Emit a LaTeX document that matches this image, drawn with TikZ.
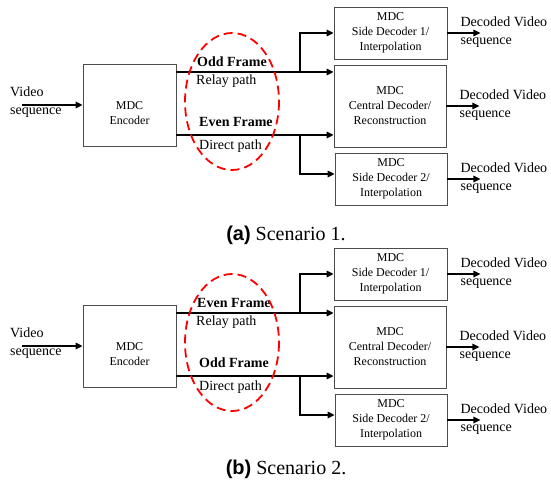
\documentclass[tikz,border=0pt]{standalone}
\usepackage{fontspec}
\setmainfont{Liberation Serif}
\newfontfamily\capsans{Liberation Sans}
\usetikzlibrary{positioning,arrows.meta}

\tikzset{
  blk/.style={draw=black!70, line width=0.8pt, inner sep=0pt, align=center,
    font=\fontsize{12}{15}\selectfont},
  lbl/.style={inner sep=0pt, align=left, font=\fontsize{14}{17.5}\selectfont},
  flow/.style={line width=1.5pt, -{Triangle[length=7pt,width=6.5pt]}},
  zone/.style={red, line width=1.8pt, dash pattern=on 9pt off 5pt}
}

\begin{document}
\begin{tikzpicture}[x=1pt,y=-1pt]
\useasboundingbox (0,0) rectangle (551,486);
\foreach \dy/\frA/\frB/\tg/\nr/\cy in {0/Odd/Even/a/1/235, 241/Even/Odd/b/2/469}{
\node[anchor=center,font=\fontsize{20}{24}\selectfont] (cap\tg) at (286,\cy) {{\capsans\bfseries (\tg)} Scenario \nr.};
\begin{scope}[shift={(0,\dy)}]
\node[blk, minimum width=93pt, minimum height=82pt,
  label={[align=center, font=\fontsize{12}{15}\selectfont, yshift=-8pt]center:MDC\\Encoder}] (enc\tg) at (129.5,105) {};
\node[blk, minimum width=113pt, minimum height=52pt] (sda\tg) at (390.5,33) {MDC\\Side Decoder 1/\\Interpolation};
\node[blk, minimum width=112pt, minimum height=82pt] (cen\tg) at (390,106) {MDC\\Central Decoder/\\Reconstruction};
\node[blk, minimum width=112pt, minimum height=52pt] (sdb\tg) at (391,179) {MDC\\Side Decoder 2/\\Interpolation};
\node[lbl, anchor=west] (vin\tg) at (10,102) {Video\\sequence};
\coordinate (src\tg) at (22,105);
\coordinate (up\tg) at (300,72);
\coordinate (lo\tg) at (300,135);
\draw[flow] (src\tg) -- (enc\tg.west);
\draw[flow] (enc\tg.east |- up\tg) -- (cen\tg.west |- up\tg);
\draw[flow] (enc\tg.east |- lo\tg) -- (cen\tg.west |- lo\tg);
\draw[flow] (up\tg) |- (sda\tg.west);
\draw[flow] (lo\tg) |- ([yshift=5pt]sdb\tg.west);
\foreach \d in {sda,cen,sdb}{
  \coordinate[right=33pt of \d\tg.east] (out\d\tg);
  \draw[flow] (\d\tg.east) -- (out\d\tg);
  \node[lbl, anchor=west] (txt\d\tg) at ([xshift=13pt,yshift=1pt]\d\tg.east) {Decoded Video\\sequence};
}
\node[lbl, anchor=west, font=\fontsize{14}{17}\bfseries] (fa\tg) at (197,62) {\frA{} Frame};
\node[lbl, anchor=west] (ra\tg) at (196,81) {Relay path};
\node[lbl, anchor=west, font=\fontsize{14}{17}\bfseries] (fb\tg) at (199,122) {\frB{} Frame};
\node[lbl, anchor=west] (rb\tg) at (199,146) {Direct path};
\draw[zone] (232,101.5) ellipse [x radius=47, y radius=68.5];
\end{scope}
}
\end{tikzpicture}
\end{document}
